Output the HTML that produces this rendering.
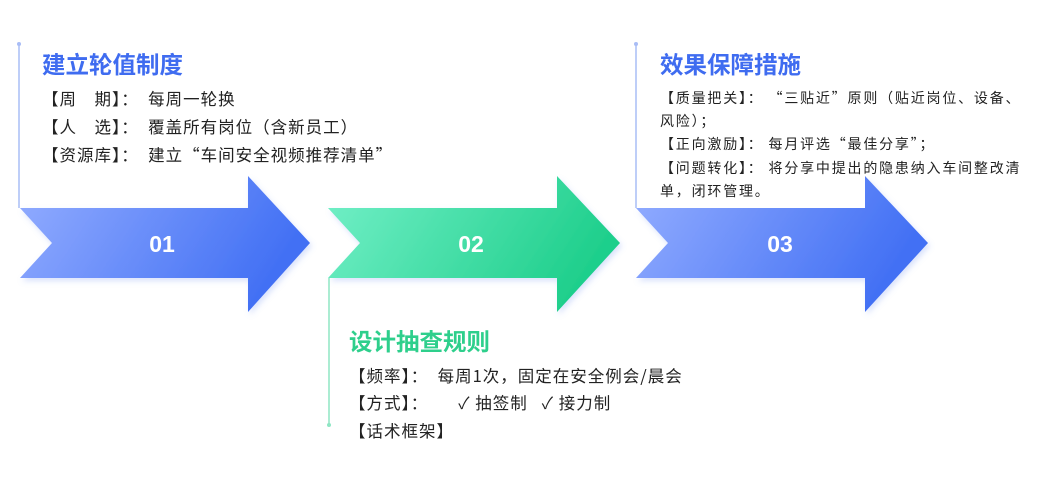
<!DOCTYPE html>
<html><head><meta charset="utf-8"><style>
body{margin:0;background:#fff;width:1042px;height:493px;overflow:hidden;position:relative;font-family:"Noto Sans CJK SC",sans-serif;}
.t{position:absolute;white-space:nowrap;line-height:1.2;}
.h{font-size:23.5px;font-weight:bold;}
.b{font-size:16.5px;color:#222;letter-spacing:1px;}
.s{font-size:14px;color:#222;letter-spacing:1.8px;}
</style></head><body>
<svg width="1042" height="493" style="position:absolute;left:0;top:0">
<defs>
<linearGradient id="gb" x1="0" y1="0" x2="1" y2="0.3"><stop offset="0" stop-color="#93adff"/><stop offset="1" stop-color="#4270f4"/></linearGradient>
<linearGradient id="gg" x1="0" y1="0" x2="1" y2="0.3"><stop offset="0" stop-color="#74f0c8"/><stop offset="1" stop-color="#1fcf8c"/></linearGradient>
<filter id="sh" x="-10%" y="-10%" width="130%" height="130%"><feDropShadow dx="2" dy="3" stdDeviation="3" flood-color="#6a8cf0" flood-opacity="0.25"/></filter>
</defs>
<polygon points="20,208 248,208 248,176 310,243 248,312 248,278 20,278 52,243" fill="url(#gb)" filter="url(#sh)"/>
<polygon points="328,208 557,208 557,176 620,243 557,312 557,278 328,278 360,243" fill="url(#gg)" filter="url(#sh)"/>
<polygon points="636,208 865,208 865,176 928,243 865,312 865,278 636,278 668,243" fill="url(#gb)" filter="url(#sh)"/>
<rect x="637" y="170" width="228" height="38" fill="#fff"/>
<line x1="19" y1="44" x2="19" y2="208" stroke="#a9bdf6" stroke-width="1.5"/>
<circle cx="19" cy="44" r="2" fill="#a9bdf6"/>
<line x1="636" y1="44" x2="636" y2="208" stroke="#a9bdf6" stroke-width="1.5"/>
<circle cx="636" cy="44" r="2" fill="#a9bdf6"/>
<line x1="329" y1="278" x2="329" y2="425" stroke="#8fe6c4" stroke-width="1.5"/>
<circle cx="329" cy="425" r="2" fill="#8fe6c4"/>
<g font-family="Liberation Sans,sans-serif" font-weight="bold" font-size="23" fill="#fff" text-anchor="middle">
<text x="162" y="252">01</text><text x="471" y="252">02</text><text x="780" y="252">03</text></g>
</svg>
<div class="t h" style="left:42px;top:49px;color:#3f6cf0">建立轮值制度</div>
<div class="t b" style="left:42px;top:89px">【周　期】：&nbsp; 每周一轮换</div>
<div class="t b" style="left:42px;top:117px">【人　选】：&nbsp; 覆盖所有岗位（含新员工）</div>
<div class="t b" style="left:42px;top:145px">【资源库】：&nbsp; 建立“车间安全视频推荐清单”</div>
<div class="t h" style="left:660px;top:49px;color:#3f6cf0">效果保障措施</div>
<div class="t s" style="left:660px;top:90px">【质量把关】： “三贴近”原则（贴近岗位、设备、</div>
<div class="t s" style="left:660px;top:113px">风险）；</div>
<div class="t s" style="left:660px;top:136px">【正向激励】： 每月评选“最佳分享”；</div>
<div class="t s" style="left:660px;top:160px">【问题转化】： 将分享中提出的隐患纳入车间整改清</div>
<div class="t s" style="left:660px;top:183px">单，闭环管理。</div>
<div class="t h" style="left:349px;top:326px;color:#2ecf8c">设计抽查规则</div>
<div class="t b" style="left:349px;top:366px">【频率】：&nbsp; 每周1次，固定在安全例会/晨会</div>
<div class="t b" style="left:349px;top:393px">【方式】：<span style="display:inline-block;width:30px"></span>✓ 抽签制&nbsp;&nbsp; ✓ 接力制</div>
<div class="t b" style="left:349px;top:421px">【话术框架】</div>
</body></html>
